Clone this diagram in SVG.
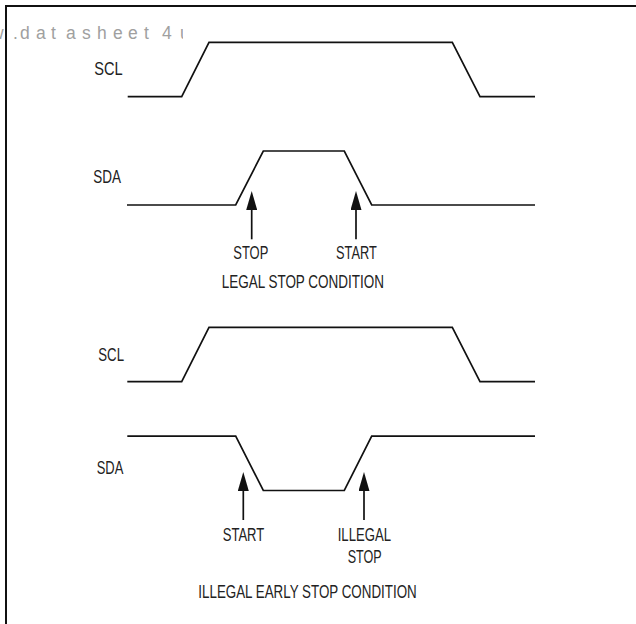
<svg xmlns="http://www.w3.org/2000/svg" width="636" height="624" viewBox="0 0 636 624">
<style>
.frame{fill:none;stroke:#111;stroke-width:2}
.sig{fill:none;stroke:#111;stroke-width:1.7;stroke-linejoin:miter}
.arr{fill:none;stroke:#111;stroke-width:1.7;marker-end:url(#head)}
.lbl{font-family:"Liberation Sans",Arial,sans-serif;font-size:17.5px;fill:#222}
.wm{font-family:"Liberation Sans",Arial,sans-serif;font-size:17.5px;fill:#a0a0a0}
</style>
<defs>
<marker id="head" viewBox="0 0 19 11" refX="0" refY="5.5" markerWidth="19" markerHeight="11" markerUnits="userSpaceOnUse" orient="auto">
<path d="M0,0 L19,5.5 L0,11 z" fill="#111"/>
</marker>
<clipPath id="wmclip"><rect x="0" y="10" width="183" height="40"/></clipPath>
</defs>
<rect width="636" height="624" fill="#fff"/>
<path class="frame" d="M6,624 V6 H636"/>
<text class="wm" clip-path="url(#wmclip)" y="39.3" x="-9 13 20 36 51 66 82 97 113 128 144 162 180">w.datasheet4u</text>

<g id="scl1">
<path class="sig" d="M127.7,96.7 H181.7 L209,42.3 H452.3 L480,96.7 H535"/>
<text class="lbl" x="94.3" y="75" textLength="28.4" lengthAdjust="spacingAndGlyphs">SCL</text>
</g>
<g id="sda1">
<path class="sig" d="M127,205 H235.7 L263.3,151 H344.3 L371.7,205 H535"/>
<text class="lbl" x="93.3" y="183.3" textLength="27.7" lengthAdjust="spacingAndGlyphs">SDA</text>
</g>
<g id="stop1">
<text class="lbl" x="233.3" y="259.3" textLength="35" lengthAdjust="spacingAndGlyphs">STOP</text>
</g>
<g id="start1">
<text class="lbl" x="336" y="259.3" textLength="40.7" lengthAdjust="spacingAndGlyphs">START</text>
</g>
<g id="title1">
<text class="lbl" x="221.7" y="288.3" textLength="162.3" lengthAdjust="spacingAndGlyphs">LEGAL STOP CONDITION</text>
</g>

<g id="scl2">
<path class="sig" d="M127.3,381.7 H181.7 L209,327.3 H452.3 L480,381.7 H535"/>
<text class="lbl" x="98.3" y="360.7" textLength="25.7" lengthAdjust="spacingAndGlyphs">SCL</text>
</g>
<g id="sda2">
<path class="sig" d="M127.3,436.2 H235.7 L263.3,490.5 H344.3 L371.7,436.2 H535"/>
<text class="lbl" x="96.7" y="474.3" textLength="26.6" lengthAdjust="spacingAndGlyphs">SDA</text>
</g>
<g id="start2">
<text class="lbl" x="222.7" y="541" textLength="41.6" lengthAdjust="spacingAndGlyphs">START</text>
</g>
<g id="illegal2">
<text class="lbl" x="337.7" y="541" textLength="53.3" lengthAdjust="spacingAndGlyphs">ILLEGAL</text>
<text class="lbl" x="347.7" y="562.7" textLength="34" lengthAdjust="spacingAndGlyphs">STOP</text>
</g>
<g id="title2">
<text class="lbl" x="198.3" y="598.3" textLength="218.4" lengthAdjust="spacingAndGlyphs">ILLEGAL EARLY STOP CONDITION</text>
</g>

<g id="connectors">
<line class="arr" x1="251.7" y1="239.3" x2="251.7" y2="210"/>
<line class="arr" x1="356" y1="239.3" x2="356" y2="210"/>
<line class="arr" x1="243.3" y1="520" x2="243.3" y2="491"/>
<line class="arr" x1="364" y1="520" x2="364" y2="491"/>
</g>
</svg>
